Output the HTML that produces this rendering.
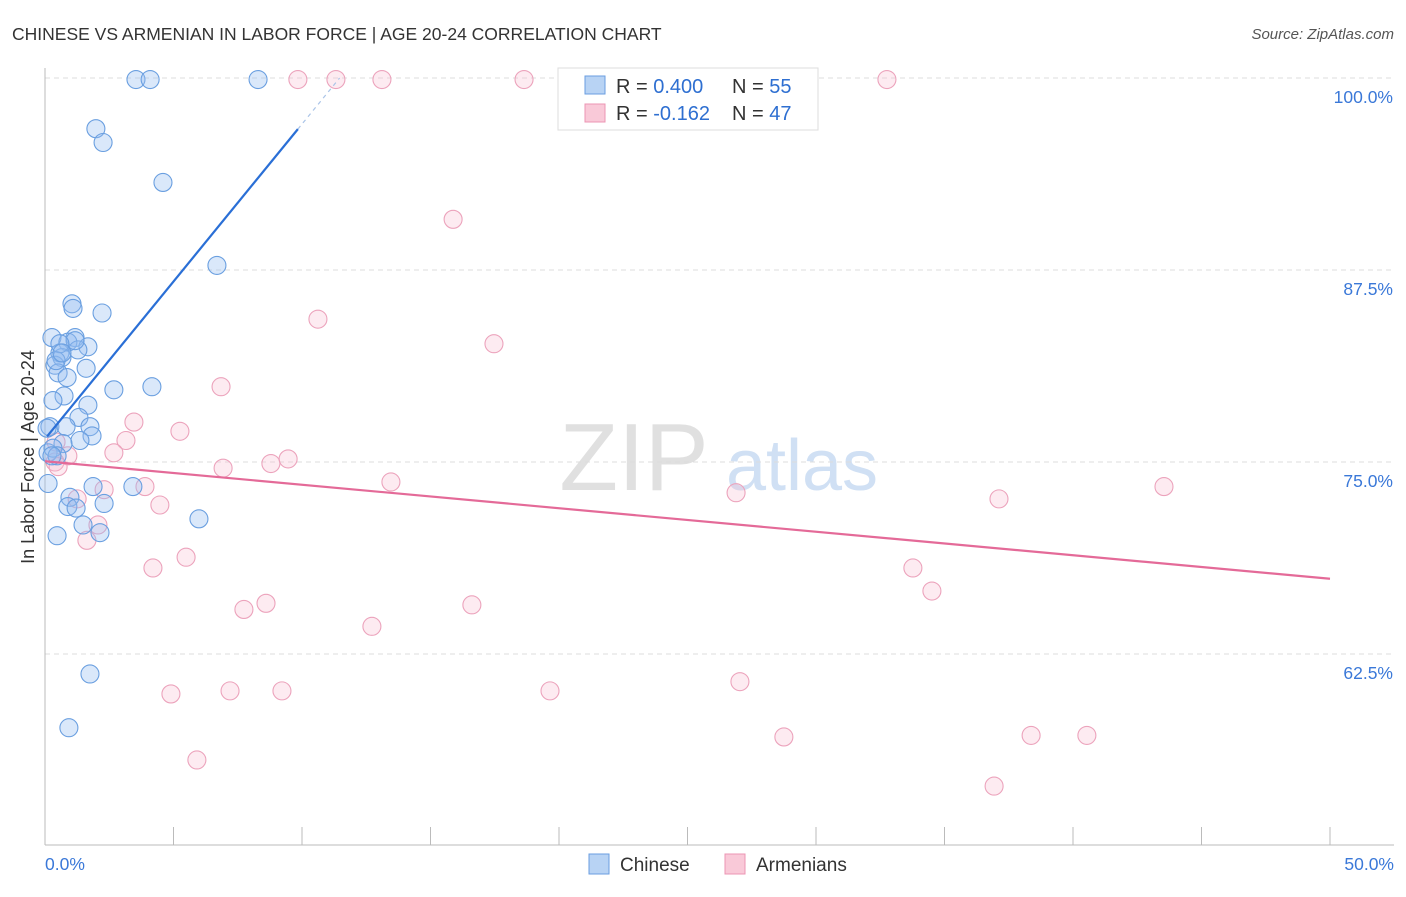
<!DOCTYPE html>
<html><head><meta charset="utf-8"><style>
body{margin:0;background:#fff;font-family:"Liberation Sans",sans-serif}
svg text{font-family:"Liberation Sans",sans-serif}
</style></head><body>
<svg id="chart" width="1406" height="892">
<text x="12" y="40" font-size="17.5" fill="#333">CHINESE VS ARMENIAN IN LABOR FORCE | AGE 20-24 CORRELATION CHART</text>
<text x="1394" y="39" font-size="15" fill="#555" font-style="italic" text-anchor="end">Source: ZipAtlas.com</text>
<g>
<text x="634" y="490" font-size="96" font-family="Liberation Serif" fill="#e0e0e0" text-anchor="middle">ZIP</text>
<text x="802" y="490" font-size="72" fill="#d0e0f4" text-anchor="middle">atlas</text>
</g>
<g id="grid"></g><g id="axes"></g><g id="pts"></g><g id="lines"></g>
<text transform="translate(34,457) rotate(-90)" font-size="18" fill="#333" text-anchor="middle">In Labor Force | Age 20-24</text>
<g>
<rect x="558" y="68" width="260" height="62" fill="#fff" stroke="#ddd"/>
<rect x="585" y="76" width="20" height="18" fill="#b8d3f4" stroke="#6a9ee0"/>
<rect x="585" y="104" width="20" height="18" fill="#f9c9d8" stroke="#ec95b3"/>
<text x="616" y="93" font-size="20" fill="#333">R = <tspan fill="#2e6fd1">0.400</tspan></text>
<text x="732" y="93" font-size="20" fill="#333">N = <tspan fill="#2e6fd1">55</tspan></text>
<text x="616" y="120" font-size="20" fill="#333">R = <tspan fill="#2e6fd1">-0.162</tspan></text>
<text x="732" y="120" font-size="20" fill="#333">N = <tspan fill="#2e6fd1">47</tspan></text>
</g>
<g>
<rect x="589" y="854" width="20" height="20" fill="#b8d3f4" stroke="#6a9ee0"/>
<text x="620" y="871" font-size="19" fill="#333">Chinese</text>
<rect x="725" y="854" width="20" height="20" fill="#f9c9d8" stroke="#ec95b3"/>
<text x="756" y="871" font-size="19" fill="#333">Armenians</text>
</g>
</svg>
<script>
const yTicks=[100,87.5,75,62.5];
const yTickLabels=["100.0%","87.5%","75.0%","62.5%"];
const xTickLabels=["0.0%","50.0%"];
const chineseX=[3.54,4.09,8.29,1.98,2.26,4.59,6.69,1.05,1.09,2.22,0.27,1.17,0.89,1.67,1.28,0.58,0.66,0.39,1.60,0.51,0.86,2.68,4.16,0.74,0.31,1.67,1.32,0.19,0.82,1.75,1.83,1.36,0.70,0.12,0.31,0.47,0.12,1.87,3.42,0.97,0.89,1.21,2.30,1.48,5.99,2.14,0.47,1.75,0.93,1.17,0.58,0.43,0.27,0.66,0.08];
const chineseY=[99.9,99.9,99.9,96.7,95.8,93.2,87.8,85.3,85.0,84.7,83.1,83.1,82.8,82.5,82.3,82.1,81.8,81.3,81.1,80.8,80.5,79.7,79.9,79.3,79.0,78.7,77.9,77.3,77.3,77.3,76.7,76.4,76.2,75.6,75.9,75.4,73.6,73.4,73.4,72.7,72.1,72.0,72.3,70.9,71.3,70.4,70.2,61.2,57.7,82.9,82.7,81.6,75.4,82.1,77.2];
const armX=[9.84,11.32,13.11,18.64,32.76,15.88,10.62,17.47,6.85,3.46,3.15,5.25,2.68,0.43,0.89,0.39,0.51,6.93,8.79,9.46,13.46,3.89,2.30,1.25,4.47,2.06,1.63,5.49,4.20,7.74,8.60,16.61,12.72,26.89,37.12,43.54,33.77,34.51,4.90,7.20,9.22,19.65,27.04,5.91,28.75,38.37,40.54,36.93];
const armY=[99.9,99.9,99.9,99.9,99.9,90.8,84.3,82.7,79.9,77.6,76.4,77.0,75.6,76.3,75.4,75.0,74.7,74.6,74.9,75.2,73.7,73.4,73.2,72.6,72.2,70.9,69.9,68.8,68.1,65.4,65.8,65.7,64.3,73.0,72.6,73.4,68.1,66.6,59.9,60.1,60.1,60.1,60.7,55.6,57.1,57.2,57.2,53.9];
const chineseFit=[76.5,2.05];
const armFit=[75.05,-0.153];
const X=v=>45+v*25.7, Y=v=>78+(100-v)*15.36;
const NS="http://www.w3.org/2000/svg";
function mk(t,a,p){const e=document.createElementNS(NS,t);for(const k in a)e.setAttribute(k,a[k]);document.getElementById(p).appendChild(e);return e;}
yTicks.forEach((t,i)=>{
 const g=mk("line",{x1:45,x2:1394,y1:Y(t),y2:Y(t),stroke:"#ddd","stroke-dasharray":"5,4"},"grid");
 
 
 const l=mk("text",{x:1393,y:Y(t)+25,"font-size":17.5,fill:"#3a78d8","text-anchor":"end"},"grid");
 l.textContent=yTickLabels[i];
 
 
});
const ya=mk("line",{x1:45,x2:45,y1:68,y2:845,stroke:"#bbb"},"axes");


const xa=mk("line",{x1:45,x2:1394,y1:845,y2:845,stroke:"#bbb"},"axes");


for(let i=0;i<=10;i++){const t=mk("line",{x1:X(i*5),x2:X(i*5),y1:827,y2:845,stroke:"#bbb"},"axes");
 
 }
[[0,"start",X(0)],[1,"end",1394]].forEach(([i,a,x])=>{const t=mk("text",{x:x,y:870,"font-size":17.5,fill:"#3a78d8","text-anchor":a},"axes");t.textContent=xTickLabels[i];
 
 });
armX.forEach((x,i)=>{const c=mk("circle",{cx:X(x),cy:Y(armY[i]),r:9,fill:"rgba(248,190,210,0.3)",stroke:"#eca3bc","stroke-width":1.1},"pts");
 
 });
chineseX.forEach((x,i)=>{const c=mk("circle",{cx:X(x),cy:Y(chineseY[i]),r:9,fill:"rgba(150,190,240,0.35)",stroke:"#6a9fe0","stroke-width":1.1},"pts");
 
 });
const cf=x=>chineseFit[0]+chineseFit[1]*x, af=x=>armFit[0]+armFit[1]*x;
const l1=mk("line",{x1:X(0.08),y1:Y(cf(0.08)),x2:X(9.84),y2:Y(cf(9.84)),stroke:"#2a6fd6","stroke-width":2.2},"lines");


const xe=(100-chineseFit[0])/chineseFit[1];
const l1b=mk("line",{x1:X(9.84),y1:Y(cf(9.84)),x2:X(xe),y2:Y(100),stroke:"#aac4e8","stroke-width":1.2,"stroke-dasharray":"4,4"},"lines");


const l2=mk("line",{x1:X(0),y1:Y(af(0)),x2:X(50),y2:Y(af(50)),stroke:"#e46a98","stroke-width":2.2},"lines");


</script>
</body></html>
